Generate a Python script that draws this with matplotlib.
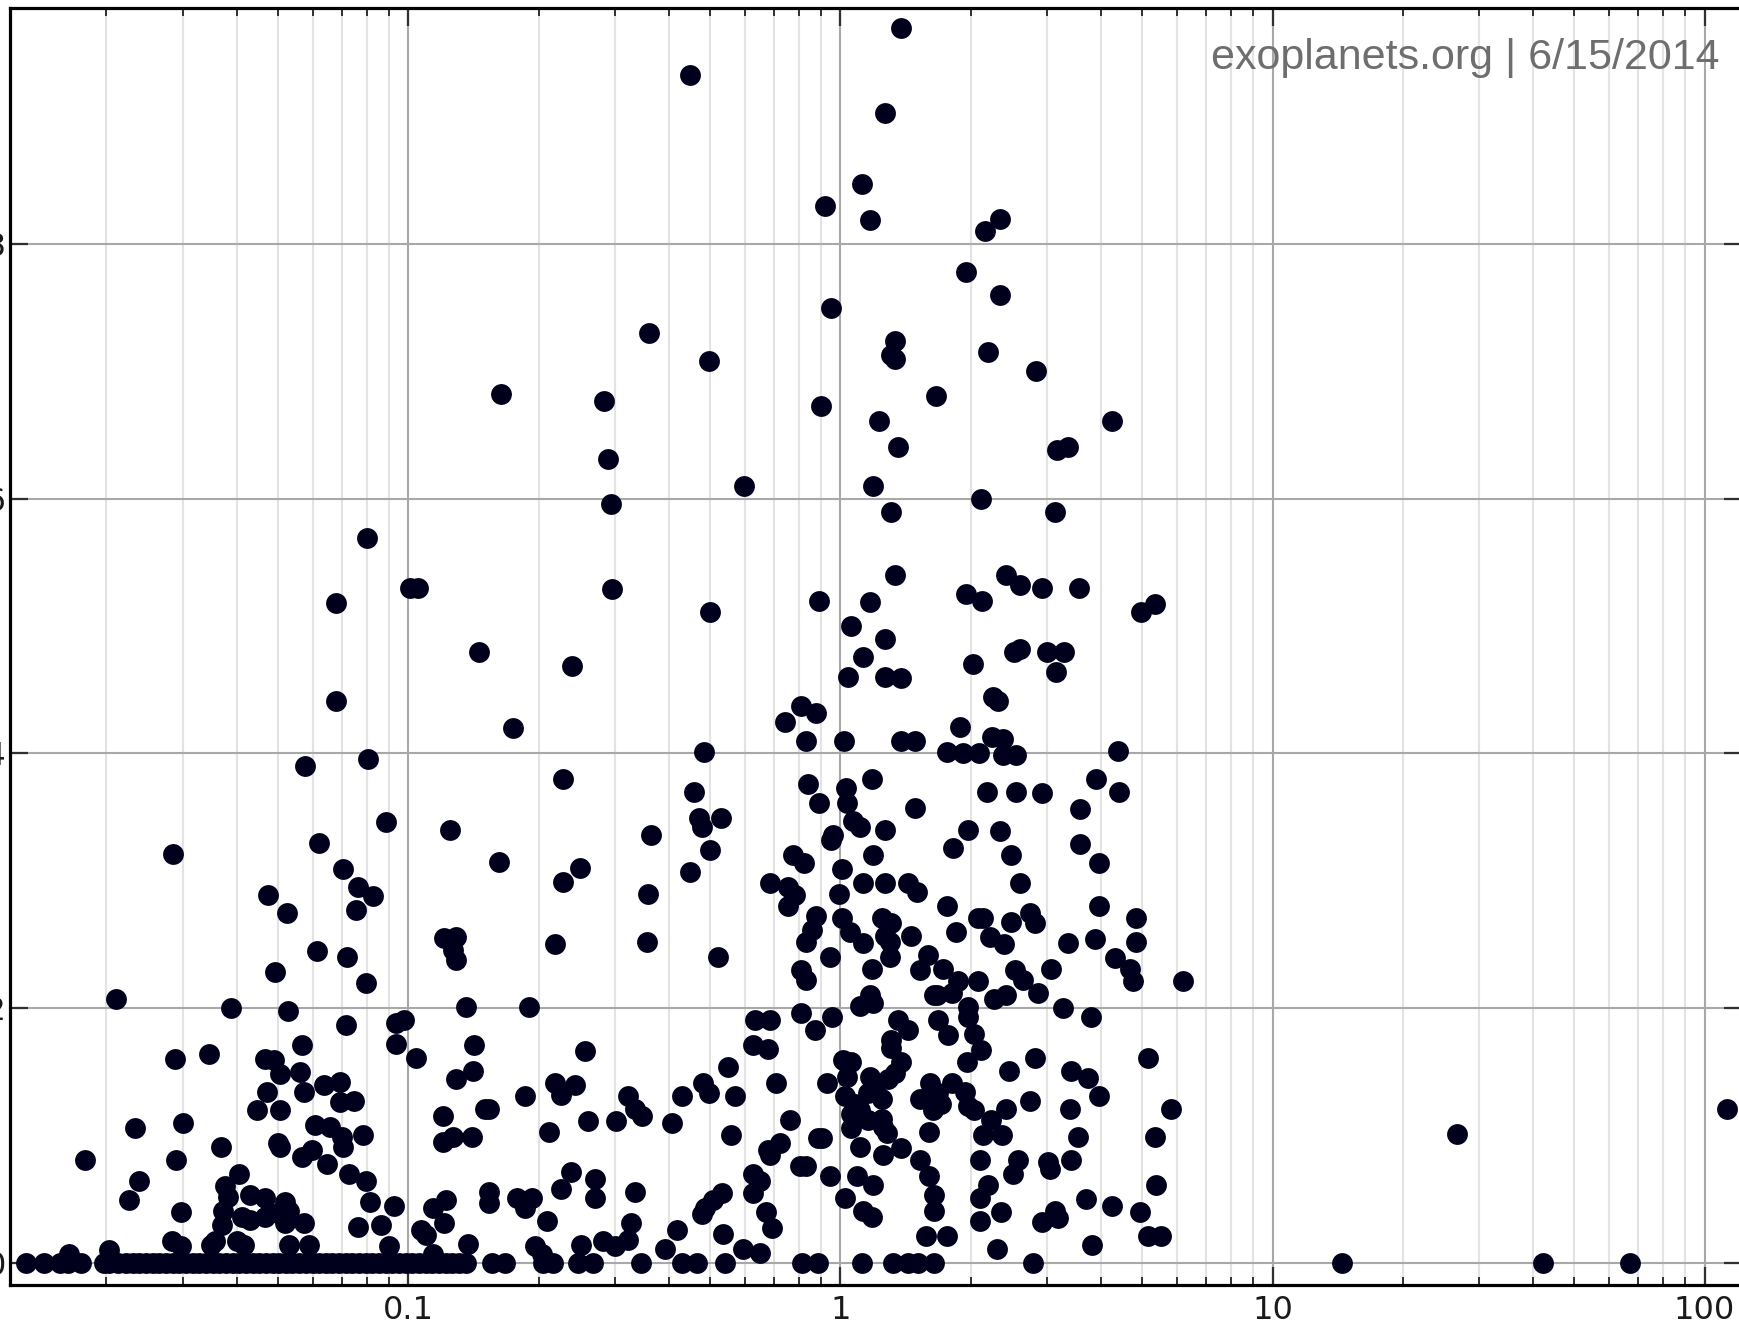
import matplotlib
matplotlib.use("Agg")
import matplotlib.pyplot as plt
from matplotlib.ticker import FixedLocator, NullFormatter

# Exoplanet orbits: semi-major axis (AU) and eccentricity, grouped by eccentricity band.
high_ecc = [
    (1.38, 0.970), (0.448, 0.933), (1.27, 0.903), (1.12, 0.847), (0.92, 0.830),
    (1.17, 0.819), (2.34, 0.820), (2.16, 0.810), (1.95, 0.778), (2.34, 0.760),
    (0.95, 0.750), (0.36, 0.730), (1.34, 0.724), (1.31, 0.713), (1.34, 0.710),
    (2.19, 0.715), (0.495, 0.708), (2.83, 0.700), (0.164, 0.682), (0.284, 0.677),
    (1.66, 0.681), (0.90, 0.673), (1.23, 0.661), (4.26, 0.661), (3.17, 0.638),
    (3.36, 0.641), (1.36, 0.641), (0.29, 0.631), (0.598, 0.610), (1.19, 0.610),
]

mid_ecc = [
    (2.12, 0.600), (0.295, 0.596), (1.31, 0.590), (3.13, 0.590), (0.080, 0.569),
    (1.34, 0.540), (0.101, 0.530), (0.105, 0.530), (0.296, 0.529), (2.41, 0.540),
    (1.95, 0.525), (2.13, 0.520), (2.60, 0.532), (2.93, 0.530), (3.56, 0.530),
    (0.894, 0.520), (1.17, 0.519), (0.068, 0.518), (0.50, 0.511), (4.96, 0.511),
    (5.36, 0.517), (1.06, 0.500), (1.27, 0.490), (0.146, 0.480), (2.52, 0.480),
    (2.60, 0.482), (3.0, 0.480), (3.3, 0.480), (1.13, 0.476), (0.239, 0.469),
    (2.03, 0.470), (3.15, 0.464), (1.04, 0.460), (1.27, 0.460), (1.38, 0.459),
    (0.068, 0.441), (2.25, 0.444), (2.31, 0.441), (0.81, 0.437), (0.88, 0.432),
    (0.744, 0.425), (1.89, 0.421), (0.83, 0.410), (1.02, 0.410), (1.38, 0.410),
    (1.49, 0.410), (2.24, 0.413), (2.38, 0.411), (0.175, 0.420), (1.76, 0.401),
    (1.92, 0.400), (2.09, 0.400), (0.483, 0.401), (4.38, 0.402), (2.55, 0.399),
    (2.38, 0.399), (0.0575, 0.390), (0.0806, 0.396),
]

moderate_ecc = [
    (0.228, 0.380), (0.842, 0.376), (1.18, 0.380), (3.90, 0.380), (1.03, 0.373),
    (0.458, 0.370), (2.18, 0.370), (2.55, 0.370), (2.93, 0.369), (4.41, 0.370),
    (0.894, 0.361), (1.036, 0.361), (1.49, 0.357), (3.58, 0.356), (0.0886, 0.346),
    (0.47, 0.349), (0.478, 0.342), (0.528, 0.349), (1.07, 0.347), (1.11, 0.342),
    (1.27, 0.340), (0.125, 0.340), (0.96, 0.336), (0.953, 0.332), (1.97, 0.340),
    (2.34, 0.339), (3.58, 0.329), (0.364, 0.336), (0.0621, 0.330), (1.82, 0.326),
    (0.50, 0.324), (0.0285, 0.321), (0.776, 0.320), (1.19, 0.320), (2.48, 0.320),
    (0.823, 0.314), (3.97, 0.314), (0.0704, 0.309), (0.162, 0.315), (0.249, 0.310),
    (0.448, 0.307), (1.01, 0.309),
]

# Giant planets around 1-6 AU with e below 0.3
low_ecc_outer = [
    (0.99, 0.290), (1.129, 0.298), (1.267, 0.298), (1.43, 0.298), (1.50, 0.291),
    (2.60, 0.298), (1.76, 0.280), (0.880, 0.272), (0.857, 0.261), (0.834, 0.252),
    (1.006, 0.271), (1.05, 0.260), (1.245, 0.271), (1.31, 0.267), (1.267, 0.257),
    (1.30, 0.252), (1.46, 0.257), (1.129, 0.251), (0.946, 0.240), (1.18, 0.231),
    (1.30, 0.240), (1.596, 0.242), (1.526, 0.230), (1.73, 0.231), (1.87, 0.221),
    (1.81, 0.212), (1.65, 0.210), (1.85, 0.260), (2.08, 0.271), (2.14, 0.271),
    (2.22, 0.256), (2.39, 0.250), (2.48, 0.268), (2.74, 0.275), (2.82, 0.267),
    (2.08, 0.221), (1.97, 0.201), (1.68, 0.191), (1.77, 0.179), (1.97, 0.193),
    (2.04, 0.180), (2.12, 0.167), (1.96, 0.158), (2.27, 0.207), (2.42, 0.210),
    (2.53, 0.230), (2.65, 0.222), (2.86, 0.212), (3.07, 0.231), (3.37, 0.251),
    (3.88, 0.254), (3.97, 0.280), (4.84, 0.271), (4.84, 0.252), (4.31, 0.239),
    (4.67, 0.231), (4.76, 0.221), (6.19, 0.221), (3.27, 0.200), (3.81, 0.193),
    (2.82, 0.161), (2.45, 0.151), (3.42, 0.151), (3.74, 0.145), (3.97, 0.131),
    (5.15, 0.161), (2.74, 0.127), (2.42, 0.121), (3.39, 0.121), (5.83, 0.121),
    (3.55, 0.099), (5.34, 0.099), (3.42, 0.081), (3.02, 0.079), (3.05, 0.074),
    (2.58, 0.081), (2.51, 0.070), (2.10, 0.081), (5.38, 0.061), (2.10, 0.051),
    (2.20, 0.061), (2.35, 0.040), (2.10, 0.033), (3.71, 0.050), (4.24, 0.045),
    (4.93, 0.040), (2.92, 0.032), (3.13, 0.041), (3.19, 0.035), (2.30, 0.011),
    (3.82, 0.014), (5.15, 0.021), (5.53, 0.021), (1.015, 0.159), (1.06, 0.158),
    (1.033, 0.146), (1.024, 0.131), (1.08, 0.125), (1.06, 0.117), (1.17, 0.146),
    (1.20, 0.137), (1.245, 0.129), (1.16, 0.133), (0.929, 0.141), (1.11, 0.120),
    (1.16, 0.112), (1.245, 0.113), (1.255, 0.107), (1.28, 0.102), (1.06, 0.106),
    (1.11, 0.091), (1.255, 0.085), (1.38, 0.090), (0.905, 0.098), (0.945, 0.068),
    (1.09, 0.068), (1.19, 0.061), (1.024, 0.051), (1.13, 0.041), (1.18, 0.036),
    (0.83, 0.076), (1.31, 0.169), (1.38, 0.158), (1.34, 0.149), (1.29, 0.144),
    (1.31, 0.175), (1.36, 0.191), (1.43, 0.183), (1.526, 0.129), (1.61, 0.141),
    (1.68, 0.133), (1.64, 0.120), (1.71, 0.125), (1.81, 0.141), (1.94, 0.134),
    (1.97, 0.123), (2.04, 0.120), (1.60, 0.103), (1.526, 0.081), (1.60, 0.068),
    (1.65, 0.053), (1.65, 0.041), (1.58, 0.021), (1.76, 0.021), (2.23, 0.112),
    (2.14, 0.100), (2.36, 0.100), (0.81, 0.230), (0.834, 0.222), (0.81, 0.196),
    (0.873, 0.183), (0.954, 0.193), (1.11, 0.202), (1.17, 0.210), (1.19, 0.204),
    (1.67, 0.210),
]

# Planets between 0.1 and 0.9 AU with e below 0.3
low_ecc_middle = [
    (0.228, 0.299), (0.359, 0.290), (0.687, 0.298), (0.757, 0.295), (0.784, 0.289),
    (0.757, 0.280), (0.121, 0.255), (0.129, 0.256), (0.127, 0.246), (0.129, 0.238),
    (0.218, 0.250), (0.357, 0.252), (0.52, 0.240), (0.136, 0.201), (0.19, 0.201),
    (0.142, 0.171), (0.141, 0.151), (0.129, 0.144), (0.256, 0.166), (0.634, 0.191),
    (0.687, 0.191), (0.628, 0.171), (0.681, 0.168), (0.548, 0.154), (0.711, 0.141),
    (0.48, 0.141), (0.495, 0.133), (0.57, 0.131), (0.429, 0.131), (0.323, 0.131),
    (0.335, 0.121), (0.347, 0.115), (0.303, 0.111), (0.408, 0.110), (0.26, 0.111),
    (0.218, 0.141), (0.226, 0.132), (0.243, 0.140), (0.186, 0.131), (0.154, 0.121),
    (0.150, 0.121), (0.12, 0.115), (0.212, 0.103), (0.12, 0.095), (0.127, 0.099),
    (0.14, 0.099), (0.764, 0.112), (0.889, 0.098), (0.557, 0.100), (0.681, 0.089),
    (0.724, 0.094), (0.687, 0.085), (0.808, 0.076), (0.628, 0.070), (0.651, 0.064),
    (0.628, 0.055), (0.531, 0.055), (0.507, 0.049), (0.486, 0.043), (0.477, 0.038),
    (0.674, 0.040), (0.693, 0.027), (0.536, 0.023), (0.418, 0.026), (0.596, 0.011),
    (0.651, 0.008), (0.393, 0.011), (0.335, 0.056), (0.328, 0.031), (0.282, 0.017),
    (0.30, 0.013), (0.323, 0.018), (0.27, 0.066), (0.27, 0.051), (0.238, 0.071),
    (0.226, 0.058), (0.251, 0.014), (0.209, 0.033), (0.196, 0.013), (0.204, 0.007),
    (0.178, 0.051), (0.193, 0.051), (0.186, 0.043), (0.154, 0.056), (0.154, 0.047),
    (0.137, 0.015), (0.122, 0.049), (0.114, 0.043), (0.121, 0.031), (0.110, 0.022),
    (0.114, 0.007),
]

# Close-in planets inside 0.1 AU with e below 0.3
low_ecc_inner = [
    (0.0474, 0.289), (0.0523, 0.275), (0.0764, 0.295), (0.0828, 0.288), (0.0756, 0.277),
    (0.0614, 0.245), (0.0720, 0.240), (0.0491, 0.228), (0.0799, 0.220), (0.0210, 0.207),
    (0.0388, 0.200), (0.0527, 0.198), (0.0718, 0.187), (0.0935, 0.188), (0.0977, 0.191),
    (0.0935, 0.172), (0.104, 0.161), (0.0288, 0.160), (0.0345, 0.164), (0.0567, 0.171),
    (0.056, 0.150), (0.0573, 0.134), (0.0504, 0.148), (0.0465, 0.160), (0.0488, 0.159),
    (0.0636, 0.140), (0.0694, 0.142), (0.047, 0.134), (0.0445, 0.120), (0.0504, 0.120),
    (0.0694, 0.126), (0.075, 0.127), (0.0607, 0.108), (0.066, 0.107), (0.0700, 0.099),
    (0.0785, 0.100), (0.0233, 0.106), (0.0300, 0.110), (0.0289, 0.081), (0.0178, 0.081),
    (0.0369, 0.091), (0.050, 0.094), (0.0504, 0.091), (0.0597, 0.089), (0.0567, 0.083),
    (0.0647, 0.078), (0.0704, 0.091), (0.073, 0.070), (0.0799, 0.064), (0.0813, 0.048),
    (0.0764, 0.028), (0.0865, 0.030), (0.0928, 0.045), (0.107, 0.026), (0.0225, 0.049),
    (0.0238, 0.064), (0.0297, 0.040), (0.0370, 0.030), (0.0357, 0.017), (0.0376, 0.060),
    (0.0383, 0.052), (0.0405, 0.070), (0.0373, 0.041), (0.0430, 0.053), (0.0465, 0.051),
    (0.0412, 0.036), (0.0430, 0.034), (0.0401, 0.017), (0.0416, 0.014), (0.0465, 0.036),
    (0.050, 0.039), (0.0518, 0.048), (0.0528, 0.041), (0.0518, 0.031), (0.0573, 0.031),
    (0.059, 0.014), (0.0528, 0.014), (0.090, 0.013), (0.0284, 0.017), (0.0297, 0.013),
    (0.0350, 0.014), (0.0203, 0.010), (0.0164, 0.007),
]

# Wide-orbit planets
wide_orbits = [(26.8, 0.101), (112.5, 0.121)]

# Planets with circular (e = 0) orbits
circular = [
    (0.0130, 0.0), (0.0143, 0.0), (0.0156, 0.0), (0.0163, 0.0), (0.0175, 0.0),
    (0.0197, 0.0), (0.0203, 0.0), (0.0213, 0.0), (0.0222, 0.0), (0.0230, 0.0),
    (0.0238, 0.0), (0.0247, 0.0), (0.0256, 0.0), (0.0265, 0.0), (0.0275, 0.0),
    (0.0285, 0.0), (0.0295, 0.0), (0.0306, 0.0), (0.0317, 0.0), (0.0328, 0.0),
    (0.0340, 0.0), (0.0352, 0.0), (0.0365, 0.0), (0.0378, 0.0), (0.0392, 0.0),
    (0.0406, 0.0), (0.0421, 0.0), (0.0436, 0.0), (0.0452, 0.0), (0.0468, 0.0),
    (0.0485, 0.0), (0.0502, 0.0), (0.0520, 0.0), (0.0539, 0.0), (0.0559, 0.0),
    (0.0579, 0.0), (0.0600, 0.0), (0.0621, 0.0), (0.0644, 0.0), (0.0667, 0.0),
    (0.0691, 0.0), (0.0716, 0.0), (0.0742, 0.0), (0.0769, 0.0), (0.0796, 0.0),
    (0.0825, 0.0), (0.0855, 0.0), (0.0886, 0.0), (0.0918, 0.0), (0.0951, 0.0),
    (0.0985, 0.0), (0.1021, 0.0), (0.1058, 0.0), (0.1096, 0.0), (0.1135, 0.0),
    (0.1176, 0.0), (0.1219, 0.0), (0.1263, 0.0), (0.1308, 0.0), (0.1356, 0.0),
    (0.156, 0.0), (0.167, 0.0), (0.205, 0.0), (0.216, 0.0), (0.247, 0.0),
    (0.268, 0.0), (0.346, 0.0), (0.429, 0.0), (0.465, 0.0), (0.540, 0.0),
    (0.813, 0.0), (0.889, 0.0), (1.12, 0.0), (1.32, 0.0), (1.43, 0.0),
    (1.51, 0.0), (1.65, 0.0), (2.79, 0.0), (14.5, 0.0), (42.2, 0.0), (67.3, 0.0),
]

x_ticks = [0.1, 1, 10, 100]
x_tick_labels = ["0.1", "1", "10", "100"]
y_ticks = [0.0, 0.2, 0.4, 0.6, 0.8]
y_tick_labels = ["0", "0.2", "0.4", "0.6", "0.8"]
watermark = "exoplanets.org | 6/15/2014"

groups = [high_ecc, mid_ecc, moderate_ecc, low_ecc_outer, low_ecc_middle,
          low_ecc_inner, wide_orbits, circular]
semi_major_axis = [a for g in groups for a, _ in g]
eccentricity = [e for g in groups for _, e in g]

W, H = 1740, 1330
fig = plt.figure(figsize=(W / 100, H / 100), dpi=100)
fig.patch.set_facecolor("white")
# plot frame: left spine at 10 px, top at 8 px, bottom at 1285 px, right just past the edge
ax = fig.add_axes([10 / W, 45 / H, 1732 / W, 1277 / H])

ax.set_xscale("log")
ax.set_xlim(0.01196, 122.1)
ax.set_ylim(-0.0174, 0.9854)

ax.xaxis.set_major_locator(FixedLocator(x_ticks))
ax.set_xticklabels(x_tick_labels)
minor = [m * 10.0 ** k for k in range(-2, 3) for m in range(2, 10)]
ax.xaxis.set_minor_locator(FixedLocator(minor))
ax.xaxis.set_minor_formatter(NullFormatter())
ax.set_yticks(y_ticks)
ax.set_yticklabels(y_tick_labels)

ax.grid(which="minor", axis="x", color="#e3e3e3", linewidth=1.5, zorder=0)
ax.grid(which="major", axis="both", color="#a8a8a8", linewidth=1.5, zorder=0)
ax.set_axisbelow(True)

ax.tick_params(which="major", direction="in", length=13, width=1.6, color="#303030",
               top=True, right=True, labelsize=23, labelcolor="#1a1a1a", pad=7)
ax.tick_params(which="minor", direction="in", length=6, width=1.4, color="#303030",
               top=True, right=True)
# y labels sit just left of the frame, so only their last glyph edge shows
ax.tick_params(axis="y", pad=2.5)

for side in ("left", "top", "bottom", "right"):
    ax.spines[side].set_linewidth(2.3)
    ax.spines[side].set_color("black")

ax.scatter(semi_major_axis, eccentricity, s=225, c="#00001c", linewidths=0, zorder=3)

fig.text(1720 / W, 1 - 69 / H, watermark, ha="right", va="baseline",
         fontsize=31, color="#6e6e6e", family="Liberation Sans")

fig.savefig("out.png", dpi=100, facecolor="white")
